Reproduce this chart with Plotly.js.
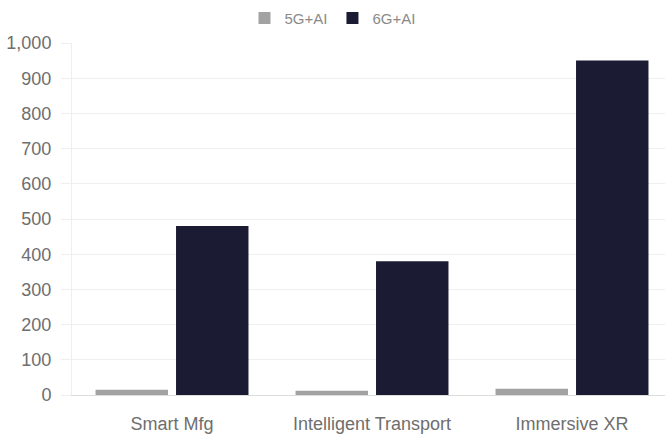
<!DOCTYPE html>
<html>
<head>
<meta charset="utf-8">
<script src="https://cdn.plot.ly/plotly-3.0.1.min.js"></script>
<style>
  html, body { margin: 0; padding: 0; background: #ffffff; overflow: hidden; }
  #chart { width: 665px; height: 437px; }
</style>
</head>
<body>
<div id="chart"></div>
<script>
// Application scenarios and the value for each network generation
const categories = ["Smart Mfg", "Intelligent Transport", "Immersive XR"];
const values5G = [15, 12, 18];
const values6G = [480, 380, 950];
const seriesNames = ["5G+AI", "6G+AI"];
const yTicks = [0, 100, 200, 300, 400, 500, 600, 700, 800, 900, 1000];

const fontFamily = "'Liberation Sans', Arial, sans-serif";

const traces = [
  {
    type: "bar",
    name: seriesNames[0],
    x: categories,
    y: values5G,
    marker: { color: "#a2a2a2" },
    hoverinfo: "x+y+name"
  },
  {
    type: "bar",
    name: seriesNames[1],
    x: categories,
    y: values6G,
    marker: { color: "#1b1c33" },
    hoverinfo: "x+y+name"
  }
];

const layout = {
  width: 665,
  height: 437,
  margin: { l: 72, r: 0, t: 43, b: 42, pad: 0 },
  paper_bgcolor: "#ffffff",
  plot_bgcolor: "#ffffff",
  font: { family: fontFamily, color: "#6e6e6e", size: 18 },
  barmode: "group",
  bargap: 0.195,
  bargroupgap: 0.1,
  showlegend: true,
  legend: {
    orientation: "h",
    xref: "container",
    yref: "container",
    x: 0.5,
    xanchor: "center",
    y: 0.958,
    yanchor: "middle",
    font: { family: fontFamily, size: 15, color: "#8a8a8a" },
    bgcolor: "rgba(0,0,0,0)",
    itemclick: false
  },
  xaxis: {
    type: "category",
    range: [-0.5, 2.465],
    showgrid: false,
    showline: true,
    linecolor: "#dcdcdc",
    linewidth: 1,
    ticks: "",
    tickfont: { family: fontFamily, size: 18, color: "#6e6e6e" },
    ticklabelstandoff: 12,
    fixedrange: true
  },
  yaxis: {
    range: [0, 1000],
    tickvals: yTicks,
    tickformat: ",",
    separators: ".,",
    showgrid: true,
    gridcolor: "#efefef",
    gridwidth: 1,
    zeroline: false,
    showline: true,
    linecolor: "#efefef",
    linewidth: 1,
    ticks: "outside",
    ticklen: 10,
    tickcolor: "#efefef",
    tickfont: { family: fontFamily, size: 18, color: "#6e6e6e" },
    ticklabelstandoff: 6,
    fixedrange: true
  },
  separators: ".,"
};

Plotly.newPlot("chart", traces, layout, { displayModeBar: false, staticPlot: true });
</script>
</body>
</html>
